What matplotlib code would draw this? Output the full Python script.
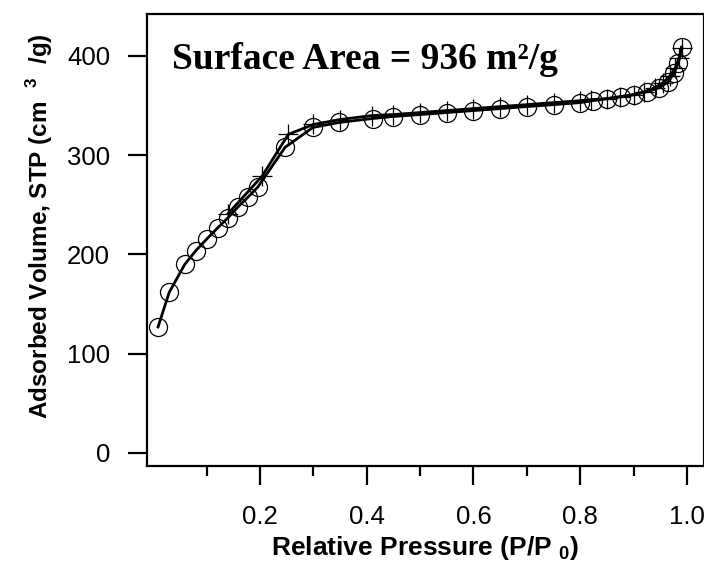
import numpy as np
import matplotlib
matplotlib.use('Agg')
import matplotlib.pyplot as plt

plt.rcParams['font.family'] = 'Liberation Sans'
plt.rcParams['mathtext.fontset'] = 'custom'
plt.rcParams['mathtext.rm'] = 'Liberation Sans'
plt.rcParams['mathtext.bf'] = 'Liberation Sans:bold'

# adsorption branch (circles)
p_ads = [0.009, 0.030, 0.059, 0.080, 0.101, 0.121, 0.140, 0.159, 0.178, 0.196,
         0.247, 0.299, 0.348, 0.411, 0.449, 0.50, 0.55, 0.60, 0.65, 0.70, 0.75,
         0.80, 0.823, 0.85, 0.876, 0.90, 0.925, 0.948, 0.965, 0.976, 0.984, 0.99]
v_ads = [127, 162, 190, 204, 216, 227, 237, 248, 258, 268,
         308, 328, 333, 337, 339, 341, 343, 345, 347, 349, 351,
         353, 355, 357, 359, 361, 364, 368, 374, 383, 393, 409]

# desorption branch (plus)
p_des = [0.99, 0.985, 0.978, 0.968, 0.955, 0.94, 0.92, 0.90, 0.875, 0.85, 0.82,
         0.80, 0.75, 0.70, 0.65, 0.60, 0.55, 0.50, 0.45, 0.41, 0.35, 0.30,
         0.253, 0.204, 0.14]
v_des = [408, 398, 388, 380, 373, 368, 364, 361, 359, 357, 356,
         355, 353, 351, 349, 347, 345, 343, 341, 340, 336, 331,
         321, 279, 241]

xticks_major = [0.2, 0.4, 0.6, 0.8, 1.0]
xticks_minor = [0.1, 0.3, 0.5, 0.7, 0.9]
yticks = [0, 100, 200, 300, 400]

fig = plt.figure(figsize=(7.04, 5.61), dpi=100)
ax = fig.add_axes([147/704, 1-466/561, 556/704, 452/561])

ax.plot(p_ads, v_ads, color='k', lw=2.0, marker='o', ms=13, mfc='none',
        mec='k', mew=0.9)
ax.plot(p_des, v_des, color='k', lw=2.0, marker='+', ms=14, mec='k', mew=0.9)

ax.set_xlim(-0.0117, 1.030)
ax.set_ylim(-13.1, 442.3)

ax.set_xticks(xticks_major)
ax.set_xticklabels(['%.1f' % t for t in xticks_major])
ax.set_xticks(xticks_minor, minor=True)
ax.set_yticks(yticks)

for s in ['left', 'bottom', 'top']:
    ax.spines[s].set_linewidth(1.6)
ax.spines['right'].set_linewidth(0.8)

ax.tick_params(axis='x', which='major', length=14, width=1.6, pad=14,
               labelsize=18.5)
ax.tick_params(axis='x', which='minor', length=7.5, width=1.6)
ax.tick_params(axis='y', which='major', length=13.5, width=1.6, pad=13,
               labelsize=18.5)

ax.set_xlabel(r'Relative Pressure (P/P $_{\mathbf{0}}$)', fontsize=19,
              fontweight='bold', labelpad=4)
ax.set_ylabel(r'Adsorbed Volume, STP (cm  $^{\mathbf{3}}$  /g)', fontsize=17.5,
              fontweight='bold')
ax.yaxis.set_label_coords(-0.165, 0.53)

ax.text(0.045, 0.9, 'Surface Area = 936 m²/g', transform=ax.transAxes,
        fontsize=27, fontweight='bold', family='Liberation Serif',
        va='center', ha='left')

fig.savefig('out.png', dpi=100)
